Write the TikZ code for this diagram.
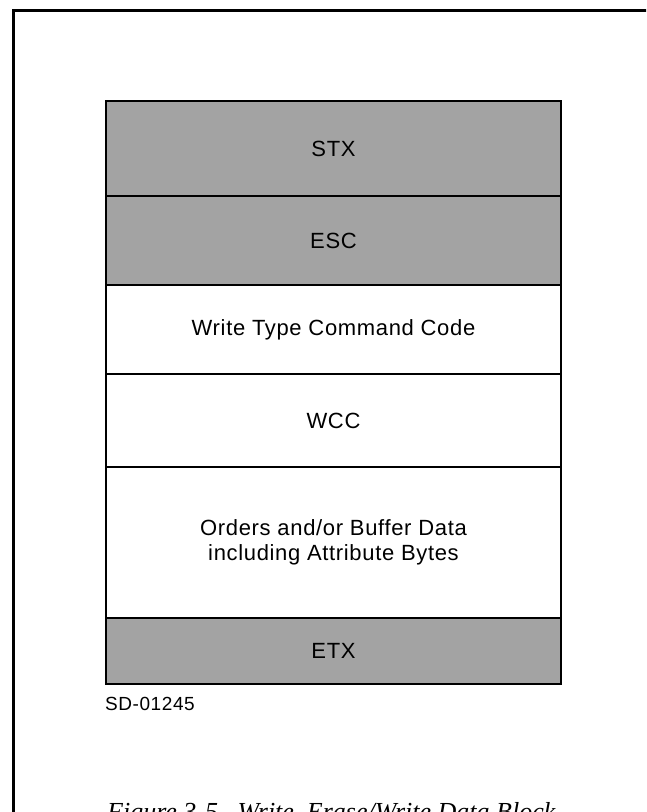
\documentclass[tikz,border=0pt]{standalone}
\usepackage{fontspec}
\setmainfont{Liberation Sans}[LetterSpace=3]
\newfontfamily\captionserif{Liberation Serif}
\tikzset{
  field/.style={draw=black, line width=2pt, rectangle, inner sep=0pt,
    minimum width=455pt, anchor=north west, align=center,
    font=\fontsize{22}{25}\selectfont},
  shaded/.style={field, fill=black!36},
  plain/.style={field, fill=white},
  frameline/.style={line width=3pt, line cap=rect}
}
\begin{document}
\begin{tikzpicture}[x=1pt,y=-1pt]
  \useasboundingbox (0,0) rectangle (646,812);
  \clip (0,0) rectangle (646,812);
  % page frame, open at right and bottom
  \coordinate (frameR) at (660,10);
  \coordinate (frameTL) at (13,10);
  \coordinate (frameB) at (13,830);
  \draw[frameline] (frameR) -- (frameTL) -- (frameB);
  % data block fields, top to bottom
  \node[shaded, minimum height=95pt] (stx) at (105,100) {STX};
  \node[shaded, minimum height=89pt] (esc) at (105,195) {ESC};
  \node[plain,  minimum height=89pt] (wtc) at (105,284) {Write Type Command Code};
  \node[plain,  minimum height=93pt] (wcc) at (105,373) {WCC};
  \node[plain,  minimum height=151pt] (ord) at (105,466) {Orders and/or Buffer Data\\including Attribute Bytes};
  \node[shaded, minimum height=66pt] (etx) at (105,617) {ETX};
  % drawing number and caption
  \node[anchor=base west, inner sep=0pt, font=\fontsize{19}{22}\selectfont] (sd) at (105,710) {SD-01245};
  \node[anchor=base west, inner sep=0pt, font=\captionserif\itshape\fontsize{26}{30}\selectfont] (cap) at (107,820) {Figure 3-5.\ \ Write, Erase/Write Data Block};
\end{tikzpicture}
\end{document}
